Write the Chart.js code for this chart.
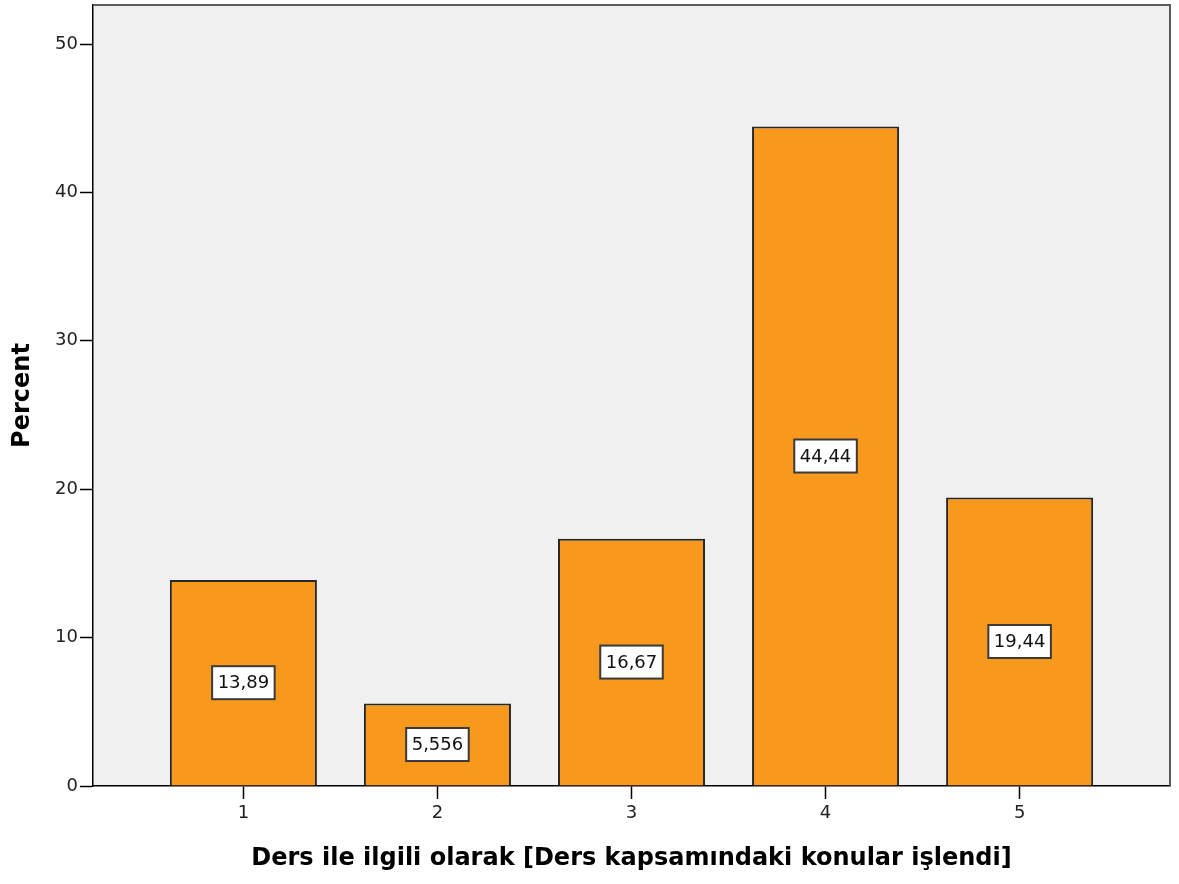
<!DOCTYPE html>
<html>
<head>
<meta charset="utf-8">
<script src="https://cdn.jsdelivr.net/npm/chart.js@4/dist/chart.umd.min.js"></script>
<style>
  html, body { margin: 0; padding: 0; background: #ffffff; }
  #wrap { width: 1179px; height: 884px; }
</style>
</head>
<body>
<div id="wrap"><canvas id="c" width="1179" height="884"></canvas></div>
<script>
const categories = [1, 2, 3, 4, 5];
const percents = [13.89, 5.556, 16.67, 44.44, 19.44];
const valueLabels = ["13,89", "5,556", "16,67", "44,44", "19,44"];
const yTicks = [0, 10, 20, 30, 40, 50];
const xTitle = "Ders ile ilgili olarak [Ders kapsamındaki konular işlendi]";
const yTitle = "Percent";

const FONT = "'DejaVu Sans', Verdana, sans-serif";

const frame = {
  id: 'frame',
  beforeDraw(chart) {
    const { ctx, chartArea: a } = chart;
    ctx.save();
    ctx.fillStyle = '#ffffff';
    ctx.fillRect(0, 0, chart.width, chart.height);
    ctx.fillStyle = '#F0F0F0';
    ctx.fillRect(a.left, a.top, a.right - a.left, a.bottom - a.top);
    ctx.restore();
  },
  afterDraw(chart) {
    const { ctx, chartArea: a } = chart;
    ctx.save();
    ctx.strokeStyle = '#5a5a5a';
    ctx.lineWidth = 2;
    ctx.beginPath();
    ctx.moveTo(a.left, a.top);
    ctx.lineTo(a.right, a.top);
    ctx.lineTo(a.right, a.bottom);
    ctx.stroke();
    ctx.restore();
  }
};

const boxLabels = {
  id: 'boxLabels',
  afterDatasetsDraw(chart) {
    const { ctx } = chart;
    const meta = chart.getDatasetMeta(0);
    ctx.save();
    ctx.font = "18px " + FONT;
    ctx.textAlign = 'center';
    ctx.textBaseline = 'middle';
    meta.data.forEach((el, i) => {
      const txt = valueLabels[i];
      const cx = el.x;
      const cy = (el.y + el.base) / 2;
      const w = ctx.measureText(txt).width + 11;
      const h = 33;
      ctx.fillStyle = '#ffffff';
      ctx.fillRect(cx - w / 2, cy - h / 2, w, h);
      ctx.strokeStyle = '#3a3a3a';
      ctx.lineWidth = 2;
      ctx.strokeRect(cx - w / 2, cy - h / 2, w, h);
      ctx.fillStyle = '#111111';
      ctx.fillText(txt, cx, cy + 1);
    });
    ctx.restore();
  }
};

new Chart(document.getElementById('c'), {
  type: 'bar',
  data: {
    datasets: [{
      data: categories.map((c, i) => ({ x: c, y: percents[i] })),
      backgroundColor: '#F8981D',
      borderColor: '#262626',
      borderWidth: 2,
      barPercentage: 147 / 194,
      categoryPercentage: 1
    }]
  },
  options: {
    responsive: false,
    animation: false,
    layout: { padding: { top: 5, right: 9, left: 0, bottom: 0 } },
    plugins: { legend: { display: false }, tooltip: { enabled: false } },
    scales: {
      x: {
        type: 'linear',
        offset: false,
        min: 0.225,
        max: 5.775,
        afterBuildTicks: (s) => { s.ticks = categories.map(v => ({ value: v })); },
        afterFit: (s) => { s.height = 98; s.paddingLeft = 0; s.paddingRight = 0; },
        grid: { offset: false, drawOnChartArea: false, tickLength: 13, tickColor: '#000', tickWidth: 1.5 },
        border: { display: true, color: '#000', width: 1.5 },
        ticks: { color: '#222', font: { family: FONT, size: 18 }, padding: 4, maxRotation: 0 },
        title: {
          display: true, text: xTitle, color: '#000',
          font: { family: FONT, size: 24, weight: 'bold' },
          padding: { top: 0, bottom: 11 }
        }
      },
      y: {
        min: 0,
        max: 52.63,
        afterBuildTicks: (s) => { s.ticks = yTicks.map(v => ({ value: v })); },
        afterFit: (s) => { s.width = 93; s.paddingTop = 0; s.paddingBottom = 0; },
        grid: { drawOnChartArea: false, tickLength: 13, tickColor: '#000', tickWidth: 1.5 },
        border: { display: true, color: '#000', width: 1.5 },
        ticks: { color: '#222', font: { family: FONT, size: 18 }, padding: 2 },
        title: {
          display: true, text: yTitle, color: '#000',
          font: { family: FONT, size: 24, weight: 'bold' },
          padding: { top: 8, bottom: 0 }
        }
      }
    }
  },
  plugins: [frame, boxLabels]
});
</script>
</body>
</html>
